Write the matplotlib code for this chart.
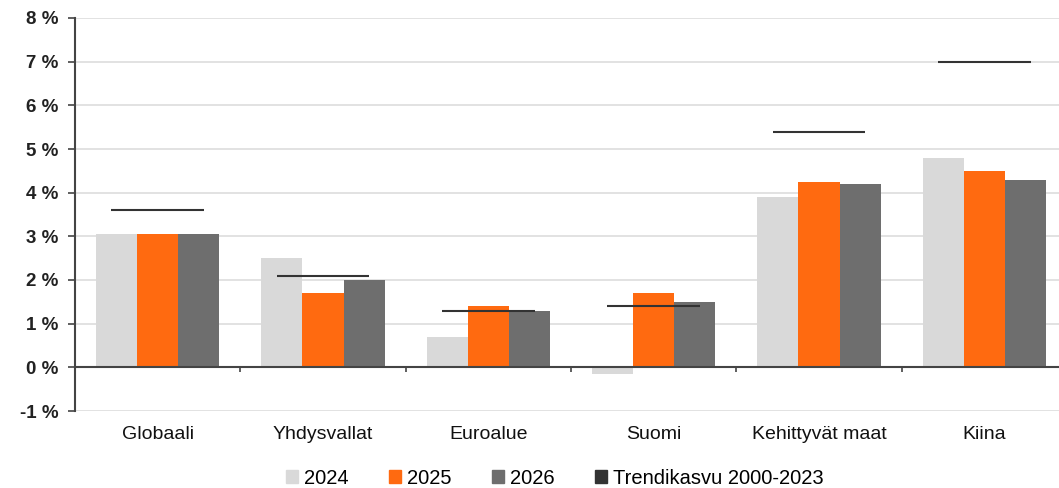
import matplotlib.pyplot as plt
import numpy as np
from matplotlib.patches import Patch

plt.rcParams['font.family'] = ['Liberation Sans', 'DejaVu Sans']

categories = ["Globaali", "Yhdysvallat", "Euroalue", "Suomi", "Kehittyvät maat", "Kiina"]
v2024 = [3.05, 2.5, 0.7, -0.15, 3.9, 4.8]
v2025 = [3.05, 1.7, 1.4, 1.7, 4.25, 4.5]
v2026 = [3.05, 2.0, 1.3, 1.5, 4.2, 4.3]
trend = [3.6, 2.1, 1.3, 1.4, 5.4, 7.0]
yticks = [-1, 0, 1, 2, 3, 4, 5, 6, 7, 8]

c24 = '#d9d9d9'
c25 = '#ff6a10'
c26 = '#6e6e6e'
ctr = '#333333'

fig = plt.figure(figsize=(10.59, 4.88), dpi=100)
# axes runs a bit past the right edge, like the cropped original
ax = fig.add_axes([75/1059, 1-411/488, 992/1059, (411-18)/488])

x = np.arange(len(categories))
w = 0.248
ax.bar(x - w, v2024, w, color=c24, zorder=2)
ax.bar(x, v2025, w, color=c25, zorder=2)
ax.bar(x + w, v2026, w, color=c26, zorder=2)
ax.hlines(trend, x - 0.28, x + 0.28, color=ctr, lw=1.5, zorder=3)

ax.set_xlim(-0.5, len(categories) - 0.5)
ax.set_ylim(-1, 8)
ax.set_yticks(yticks)
ax.set_yticklabels([f"{t} %" for t in yticks], fontsize=13.5, fontweight='bold', color='#222222')
ax.yaxis.grid(True, color='#dddddd', lw=1.2, zorder=0)
ax.set_axisbelow(True)

ax.axhline(0, color='#444444', lw=1.5, zorder=4)
ax.vlines(x[:-1] + 0.5, -0.1, 0, color='#444444', lw=1.2, zorder=4)

ax.set_xticks(x)
ax.set_xticklabels(categories, fontsize=14, color='#111111')
ax.tick_params(axis='x', length=0, pad=11)
ax.tick_params(axis='y', length=5, width=1.2, color='#444444', pad=7)

for s in ['top', 'right', 'bottom']:
    ax.spines[s].set_visible(False)
ax.spines['left'].set_color('#444444')
ax.spines['left'].set_linewidth(1.5)

handles = [Patch(color=c24), Patch(color=c25), Patch(color=c26), Patch(color=ctr)]
labels = ["2024", "2025", "2026", "Trendikasvu 2000-2023"]
fig.legend(handles, labels, loc='center', bbox_to_anchor=(555/1059, 1-478/488), ncol=4,
           frameon=False, fontsize=14.5, handlelength=0.6, handleheight=0.6,
           handletextpad=0.3, columnspacing=2.0)

fig.savefig("out.png", dpi=100)
